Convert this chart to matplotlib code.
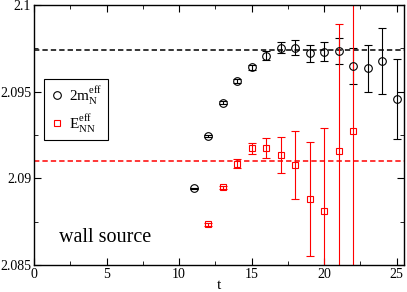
import matplotlib
matplotlib.use("Agg")
import matplotlib.pyplot as plt
from matplotlib.lines import Line2D
from matplotlib.ticker import MultipleLocator

plt.rcParams['font.family'] = ['Liberation Serif', 'DejaVu Serif']
plt.rcParams['mathtext.fontset'] = 'custom'
plt.rcParams['mathtext.rm'] = 'Liberation Serif'

# 2 m_N effective mass (black circles)
t_n = [11, 12, 13, 14, 15, 16, 17, 18, 19, 20, 21, 22, 23, 24, 25]
m_n = [2.08942, 2.09244, 2.09436, 2.09563, 2.09640, 2.09708, 2.09754, 2.09754,
       2.09721, 2.09731, 2.09735, 2.09648, 2.09635, 2.09675, 2.09456]
m_n_err = [0.00005, 0.00008, 0.0001, 0.00012, 0.00015, 0.00024, 0.0003, 0.00042,
           0.00048, 0.00053, 0.00076, 0.00101, 0.00137, 0.0019, 0.0023]

# E_NN effective energy (red squares)
t_nn = [12, 13, 14, 15, 16, 17, 18, 19, 20, 21, 22]
e_nn = [2.08735, 2.08948, 2.09083, 2.09173, 2.09173, 2.09133, 2.09075,
        2.08881, 2.08812, 2.09158, 2.09273]
e_nn_err = [0.00008, 0.0001, 0.00026, 0.00032, 0.00058, 0.00105, 0.00197,
            0.0033, 0.00477, 0.00733, 0.009]

fit_n = 2.0974   # black dashed line
fit_nn = 2.0910  # red dashed line

fig = plt.figure(figsize=(4.07, 2.92), dpi=100)
ax = fig.add_axes([0.0835, 0.0925, 0.9091, 0.8904])

ax.axhline(fit_n, color='black', lw=1.1, linestyle=(0, (3.5, 2)))
ax.axhline(fit_nn, color='red', lw=1.1, linestyle=(0, (3.5, 2)))

ax.errorbar(t_n, m_n, yerr=m_n_err, fmt='o', mfc='none', mec='black', ms=5.5,
            mew=0.8, ecolor='black', elinewidth=0.8, capsize=3, capthick=0.8)
ax.errorbar(t_nn, e_nn, yerr=e_nn_err, fmt='s', mfc='none', mec='red', ms=5,
            mew=0.8, ecolor='red', elinewidth=0.8, capsize=3, capthick=0.8)

ax.set_xlim(0, 25.5)
ax.set_ylim(2.085, 2.1)
ax.xaxis.set_major_locator(MultipleLocator(5))
ax.xaxis.set_minor_locator(MultipleLocator(2.5))
ax.yaxis.set_minor_locator(MultipleLocator(0.0025))
ax.set_yticks([2.085, 2.09, 2.095, 2.1])
ax.set_yticklabels(['2.085', '2.09', '2.095', '2.1'])
ax.tick_params(which='both', direction='in', top=True, right=True, labelsize=10, pad=2)
ax.tick_params(which='major', length=5)
ax.tick_params(which='minor', length=3)
for s in ax.spines.values():
    s.set_linewidth(1.0)

ax.set_xlabel('t', fontsize=11)
ax.xaxis.set_label_coords(0.5, -0.055)
ax.text(1.72, 2.0863, 'wall source', fontsize=14.5, va='baseline')

# legend shows markers only (no error bars)
handles = [
    Line2D([], [], ls='none', marker='o', mfc='none', mec='black', ms=5.5, mew=0.8),
    Line2D([], [], ls='none', marker='s', mfc='none', mec='red', ms=5, mew=0.8),
]
labels = [r'2m$_\mathrm{N}^\mathrm{eff}$', r'E$_\mathrm{NN}^\mathrm{eff}$']
leg = ax.legend(handles, labels, loc='upper left', bbox_to_anchor=(0.027, 0.715),
                fontsize=11, frameon=True, fancybox=False, edgecolor='black',
                framealpha=1, handletextpad=0.3, borderpad=0.35, labelspacing=0.35,
                handlelength=1.0, borderaxespad=0)
leg.get_frame().set_linewidth(0.8)

fig.savefig('out.png', dpi=100)
